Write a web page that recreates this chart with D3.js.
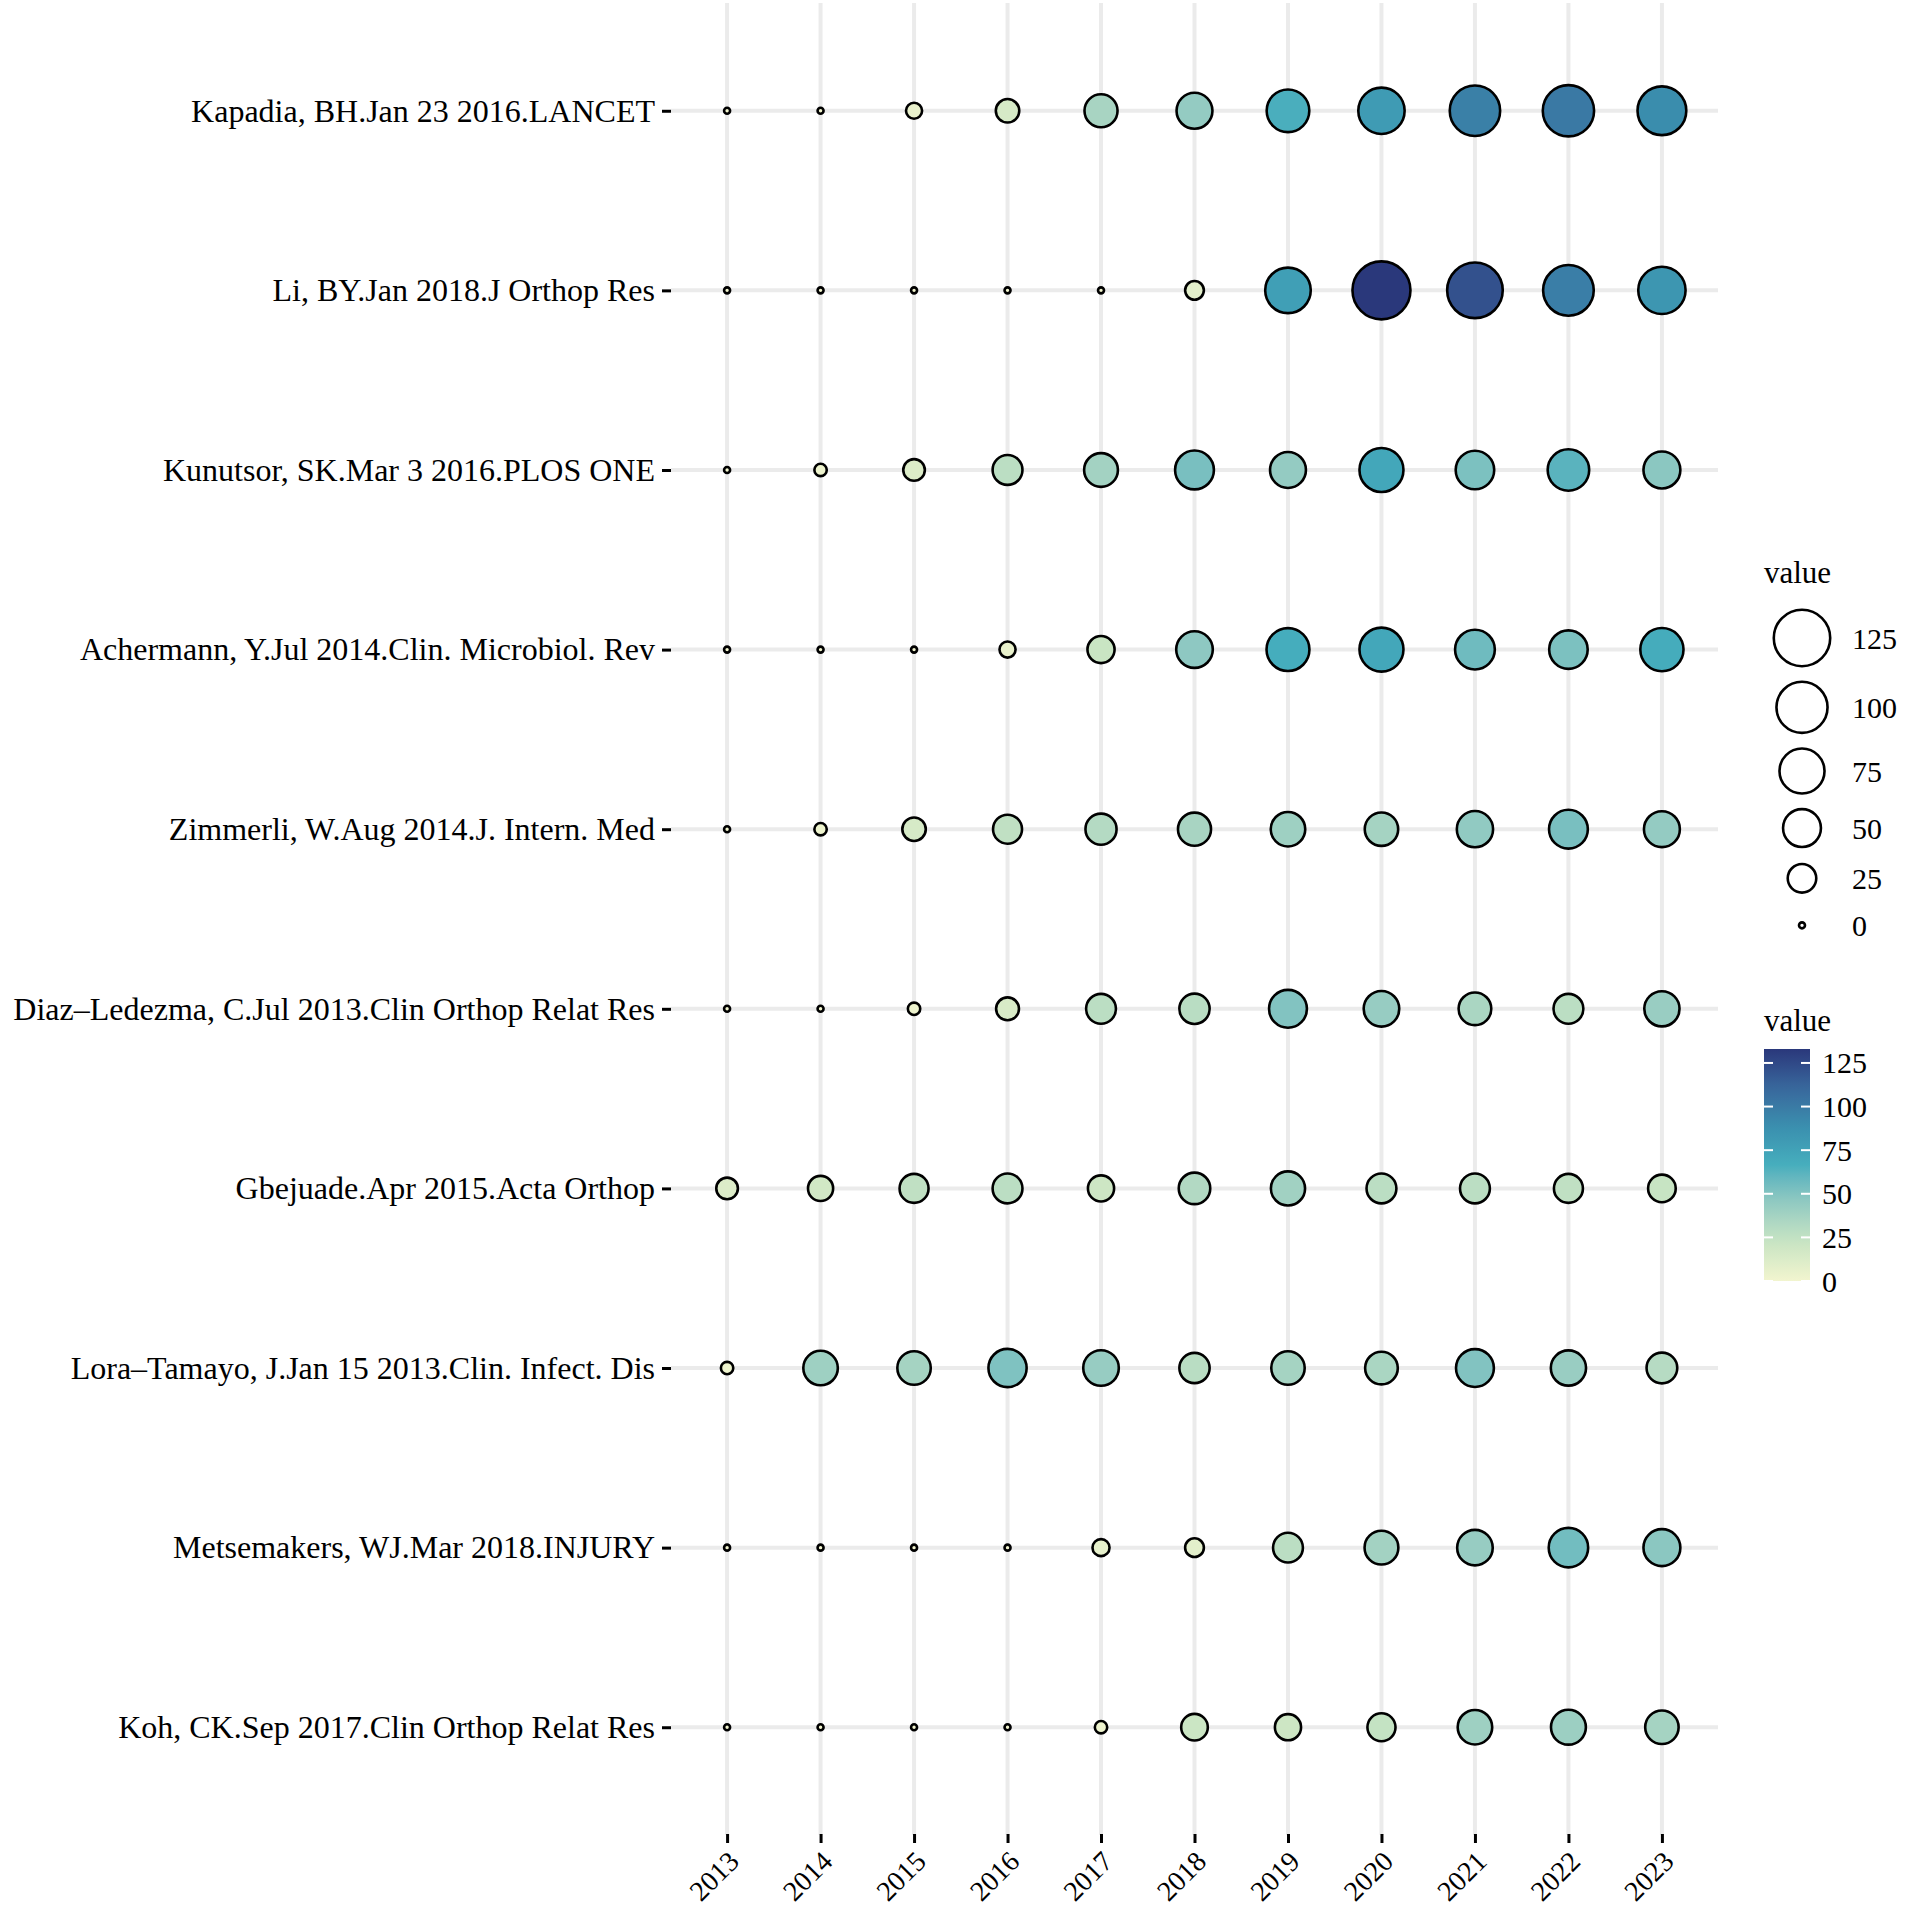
<!DOCTYPE html>
<html>
<head>
<meta charset="utf-8">
<script src="https://cdn.jsdelivr.net/npm/d3@7"></script>
<style>
  body { margin: 0; background: #fff; }
  text { font-family: "Liberation Serif", "Times New Roman", serif; fill: #000; }
</style>
</head>
<body>
<svg id="chart"></svg>
<script>
// citations per year, one array per paper (2013..2023)
const years = ["2013", "2014", "2015", "2016", "2017", "2018", "2019", "2020", "2021", "2022", "2023"];
const papers = [
  "Kapadia, BH.Jan 23 2016.LANCET",
  "Li, BY.Jan 2018.J Orthop Res",
  "Kunutsor, SK.Mar 3 2016.PLOS ONE",
  "Achermann, Y.Jul 2014.Clin. Microbiol. Rev",
  "Zimmerli, W.Aug 2014.J. Intern. Med",
  "Diaz–Ledezma, C.Jul 2013.Clin Orthop Relat Res",
  "Gbejuade.Apr 2015.Acta Orthop",
  "Lora–Tamayo, J.Jan 15 2013.Clin. Infect. Dis",
  "Metsemakers, WJ.Mar 2018.INJURY",
  "Koh, CK.Sep 2017.Clin Orthop Relat Res"
];
const kapadia     = [0, 0, 5, 15, 36, 44, 66, 80, 97, 101, 90];
const li          = [0, 0, 0, 0, 0, 8, 77, 133, 121, 98, 84];
const kunutsor    = [0, 2, 12, 28, 38, 53, 44, 71, 52, 62, 47];
const achermann   = [0, 0, 0, 5, 22, 46, 67, 71, 56, 52, 68];
const zimmerli    = [0, 2, 15, 26, 31, 36, 40, 37, 45, 53, 44];
const diaz        = [0, 0, 2, 14, 28, 29, 50, 43, 35, 28, 42];
const gbejuade    = [12, 18, 26, 28, 20, 32, 39, 28, 28, 26, 23];
const lora        = [2, 40, 37, 51, 43, 29, 37, 35, 50, 42, 30];
const metsemakers = [0, 0, 0, 0, 6, 8, 28, 38, 43, 55, 47];
const koh         = [0, 0, 0, 0, 2, 21, 20, 24, 40, 41, 37];
const legendBreaks = [125, 100, 75, 50, 25, 0];

const rows = [kapadia, li, kunutsor, achermann, zimmerli, diaz, gbejuade, lora, metsemakers, koh];
const valueMax = 133;

const width = 1907, height = 1915;
const panel = { left: 671, right: 1718, top: 3, bottom: 1835 };
const ring = 2.6; // outline width of the bubbles

const svg = d3.select("#chart").attr("width", width).attr("height", height);
svg.append("rect").attr("width", width).attr("height", height).attr("fill", "#fff");

const x = d3.scalePoint().domain(years).range([panel.left, panel.right]).padding(0.6);
const y = d3.scalePoint().domain(papers).range([panel.top, panel.bottom]).padding(0.6);
const r = d3.scaleSqrt().domain([0, valueMax]).range([3, 29]);
const color = d3.scaleLinear()
  .domain([0, 22, 44, 67, 89, 111, 133])
  .range(["#f2f5cf", "#c9e5c3", "#94cbc2", "#45adbd", "#3a8fae", "#38679c", "#2a387b"])
  .interpolate(d3.interpolateLab);

const data = [];
rows.forEach((vals, i) => {
  vals.forEach((v, j) => data.push({ paper: papers[i], year: years[j], value: v }));
});

// grid
const grid = svg.append("g");
grid.selectAll(".gx").data(years).join("line")
  .attr("x1", d => x(d)).attr("x2", d => x(d))
  .attr("y1", panel.top).attr("y2", panel.bottom)
  .attr("stroke", "#ebebeb").attr("stroke-width", 4);
grid.selectAll(".gy").data(papers).join("line")
  .attr("x1", panel.left).attr("x2", panel.right)
  .attr("y1", d => y(d)).attr("y2", d => y(d))
  .attr("stroke", "#ebebeb").attr("stroke-width", 4);

// axes
const yAxis = svg.append("g")
  .attr("transform", `translate(${panel.left},0)`)
  .call(d3.axisLeft(y).tickSize(9).tickPadding(7));
yAxis.select(".domain").remove();
yAxis.selectAll(".tick line").attr("stroke", "#000").attr("stroke-width", 3);
yAxis.selectAll(".tick text").attr("font-size", 32).attr("fill", "#000");

const xAxis = svg.append("g")
  .attr("transform", `translate(0,${panel.bottom - 1})`)
  .call(d3.axisBottom(x).tickSize(9).tickPadding(0));
xAxis.select(".domain").remove();
xAxis.selectAll(".tick line").attr("stroke", "#000").attr("stroke-width", 3);
xAxis.selectAll(".tick text")
  .attr("font-size", 28)
  .attr("fill", "#000")
  .attr("text-anchor", "end")
  .attr("y", 0)
  .attr("dy", 0)
  .attr("transform", "translate(13,29) rotate(-45)");

// bubbles
svg.append("g").selectAll("circle").data(data).join("circle")
  .attr("cx", d => x(d.year))
  .attr("cy", d => y(d.paper))
  .attr("r", d => r(d.value))
  .attr("fill", d => color(d.value))
  .attr("stroke", "#000")
  .attr("stroke-width", ring);

// size legend
const sizeLeg = svg.append("g").attr("transform", "translate(1764,0)");
sizeLeg.append("text").text("value")
  .attr("x", 0).attr("y", 572).attr("dy", "0.35em").attr("font-size", 31);
let keyTop = 602;
legendBreaks.forEach(b => {
  const keyH = Math.max(2 * r(b) + ring + 13, 47);
  const cy = keyTop + keyH / 2;
  sizeLeg.append("circle")
    .attr("cx", 38).attr("cy", cy).attr("r", r(b))
    .attr("fill", "#fff").attr("stroke", "#000").attr("stroke-width", ring);
  sizeLeg.append("text").text(b)
    .attr("x", 88).attr("y", cy).attr("dy", "0.35em").attr("font-size", 30);
  keyTop += keyH;
});

// colour bar
const barTop = 1049, barBottom = 1281, barLeft = 1764, barW = 46;
const cbY = d3.scaleLinear().domain([0, valueMax]).range([barBottom, barTop]);
const grad = svg.append("defs").append("linearGradient")
  .attr("id", "cbar").attr("x1", 0).attr("y1", 1).attr("x2", 0).attr("y2", 0);
d3.range(0, 21).forEach(i => {
  grad.append("stop")
    .attr("offset", i / 20)
    .attr("stop-color", color(valueMax * i / 20));
});
const cbar = svg.append("g");
cbar.append("text").text("value")
  .attr("x", barLeft).attr("y", 1020).attr("dy", "0.35em").attr("font-size", 31);
cbar.append("rect")
  .attr("x", barLeft).attr("y", barTop).attr("width", barW).attr("height", barBottom - barTop)
  .attr("fill", "url(#cbar)");
const cbTicks = legendBreaks.slice().reverse();
cbar.selectAll(".tl").data(cbTicks).join("line")
  .attr("x1", barLeft).attr("x2", barLeft + 9)
  .attr("y1", d => cbY(d)).attr("y2", d => cbY(d))
  .attr("stroke", "#fff").attr("stroke-width", 2);
cbar.selectAll(".tr").data(cbTicks).join("line")
  .attr("x1", barLeft + barW - 9).attr("x2", barLeft + barW)
  .attr("y1", d => cbY(d)).attr("y2", d => cbY(d))
  .attr("stroke", "#fff").attr("stroke-width", 2);
cbar.selectAll(".lab").data(cbTicks).join("text")
  .text(d => d)
  .attr("x", barLeft + barW + 12)
  .attr("y", d => cbY(d)).attr("dy", "0.35em")
  .attr("font-size", 30);
</script>
</body>
</html>
